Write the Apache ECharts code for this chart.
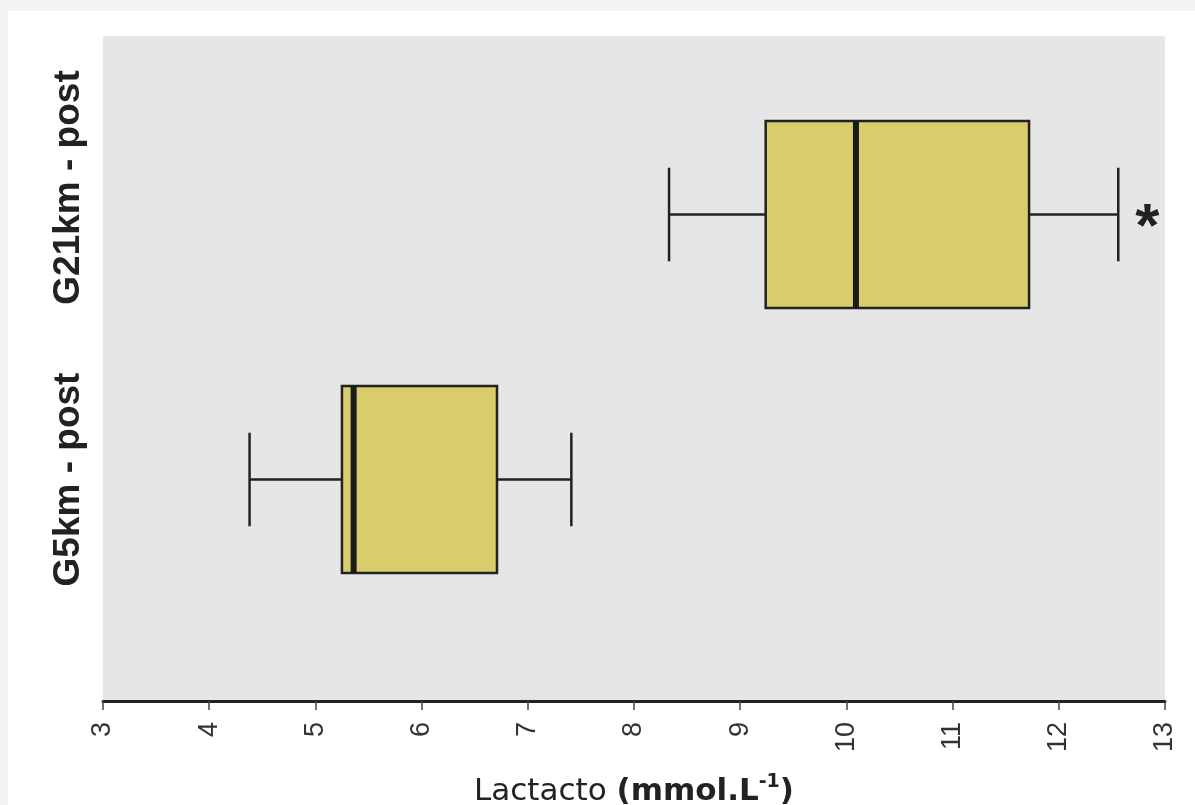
<!DOCTYPE html>
<html>
<head>
<meta charset="utf-8">
<script src="https://cdn.jsdelivr.net/npm/echarts@6/dist/echarts.min.js"></script>
<style>
  html, body { margin: 0; padding: 0; background: #f3f3f3; width: 1195px; height: 805px; overflow: hidden; }
  #card { position: absolute; left: 8px; top: 11px; width: 1187px; height: 794px; background: #ffffff; }
  #chart { position: absolute; left: 0; top: 0; width: 1195px; height: 805px; }
</style>
</head>
<body>
<div id="card"></div>
<div id="chart"></div>
<script>
// ---- data ----
var categories = ['G5km - post', 'G21km - post'];
var lowWhisker = [4.38, 8.33];
var q1 = [5.25, 9.24];
var median = [5.36, 10.09];
var q3 = [6.71, 11.72];
var highWhisker = [7.41, 12.56];
var annotations = ['', '*'];
var xMin = 3, xMax = 13, xInterval = 1;

var boxData = categories.map(function (c, i) {
  return [i, lowWhisker[i], q1[i], median[i], q3[i], highWhisker[i]];
});

var chart = echarts.init(document.getElementById('chart'), null, { renderer: 'canvas' });

var BOX_RATIO = 0.706;
var CAP_RATIO = 0.5;
var lineColor = '#222222';
var FONT = '"Liberation Sans", Arial, sans-serif';
// per-category label nudge (style only)
var labelStyleKey = ['n', 'up'];

function renderBox(params, api) {
  var cat = api.value(0);
  var lo = api.coord([api.value(1), cat]);
  var b1 = api.coord([api.value(2), cat]);
  var md = api.coord([api.value(3), cat]);
  var b3 = api.coord([api.value(4), cat]);
  var hi = api.coord([api.value(5), cat]);
  var band = api.size([0, 1])[1];
  var bw = band * BOX_RATIO;
  var cw = bw * CAP_RATIO;
  var cy = lo[1];
  var children = [
    { type: 'line', shape: { x1: lo[0], y1: cy, x2: b1[0], y2: cy }, style: { stroke: lineColor, lineWidth: 2.5 } },
    { type: 'line', shape: { x1: b3[0], y1: cy, x2: hi[0], y2: cy }, style: { stroke: lineColor, lineWidth: 2.5 } },
    { type: 'line', shape: { x1: lo[0], y1: cy - cw / 2, x2: lo[0], y2: cy + cw / 2 }, style: { stroke: lineColor, lineWidth: 2.5 } },
    { type: 'line', shape: { x1: hi[0], y1: cy - cw / 2, x2: hi[0], y2: cy + cw / 2 }, style: { stroke: lineColor, lineWidth: 2.5 } },
    { type: 'rect', shape: { x: b1[0], y: cy - bw / 2, width: b3[0] - b1[0], height: bw }, style: { fill: '#d8cc6c', stroke: lineColor, lineWidth: 2.5 } },
    { type: 'line', shape: { x1: md[0], y1: cy - bw / 2, x2: md[0], y2: cy + bw / 2 }, style: { stroke: '#1a1a1a', lineWidth: 6 } }
  ];
  var note = annotations[params.dataIndex];
  if (note) {
    children.push({
      type: 'text',
      x: hi[0] + 29, y: cy + 14,
      style: { text: note, font: 'bold 62px ' + FONT, fill: '#222', align: 'center', verticalAlign: 'middle' }
    });
  }
  return { type: 'group', children: children };
}

var catLabelBase = { fontSize: 37, fontWeight: 'bold', color: '#222', fontFamily: FONT };

var option = {
  animation: false,
  grid: [
    { left: 103, right: 30, top: 36, bottom: 104, show: true, backgroundColor: '#e6e6e6', borderWidth: 0, containLabel: false, outerBoundsMode: 'none' },
    { left: 103, right: 30, top: 82, bottom: 193, containLabel: false, outerBoundsMode: 'none' }
  ],
  xAxis: [
    {
      gridIndex: 0, type: 'value', min: xMin, max: xMax, interval: xInterval,
      axisLine: { show: true, lineStyle: { color: '#222', width: 3 } },
      axisTick: { show: true, length: 9, lineStyle: { color: '#444', width: 1.5 } },
      axisLabel: { rotate: 90, margin: 21, fontSize: 27, color: '#333', fontFamily: FONT },
      splitLine: { show: false },
      name: '{a|Lactacto }{b|(mmol.L}{s|-1}{b|)}',
      nameLocation: 'middle', nameGap: 72,
      nameTextStyle: {
        rich: {
          a: { fontSize: 31, color: '#222', fontFamily: '"DejaVu Sans", sans-serif', lineHeight: 34, verticalAlign: 'bottom' },
          b: { fontSize: 31, fontWeight: 'bold', color: '#222', fontFamily: '"DejaVu Sans", sans-serif', lineHeight: 34, verticalAlign: 'bottom' },
          s: { fontSize: 19, fontWeight: 'bold', color: '#222', fontFamily: '"DejaVu Sans", sans-serif', lineHeight: 34, verticalAlign: 'top' }
        }
      }
    },
    { gridIndex: 1, type: 'value', min: xMin, max: xMax, interval: xInterval, show: false, splitLine: { show: false } }
  ],
  yAxis: [
    { gridIndex: 0, type: 'value', show: false, splitLine: { show: false } },
    {
      gridIndex: 1, type: 'category', data: categories,
      axisLine: { show: false }, axisTick: { show: false },
      axisLabel: {
        interval: 0, hideOverlap: false, rotate: 90, margin: 16,
        fontSize: 37, fontWeight: 'bold', color: '#222', fontFamily: FONT,
        formatter: function (v, i) { return '{' + labelStyleKey[i] + '|' + v + '}'; },
        rich: {
          n: Object.assign({}, catLabelBase),
          up: Object.assign({ padding: [0, 0, 0, 54] }, catLabelBase)
        }
      }
    }
  ],
  series: [
    {
      type: 'custom', xAxisIndex: 1, yAxisIndex: 1,
      renderItem: renderBox,
      encode: { x: [1, 2, 3, 4, 5], y: 0 },
      data: boxData
    }
  ]
};
chart.setOption(option);
</script>
</body>
</html>
